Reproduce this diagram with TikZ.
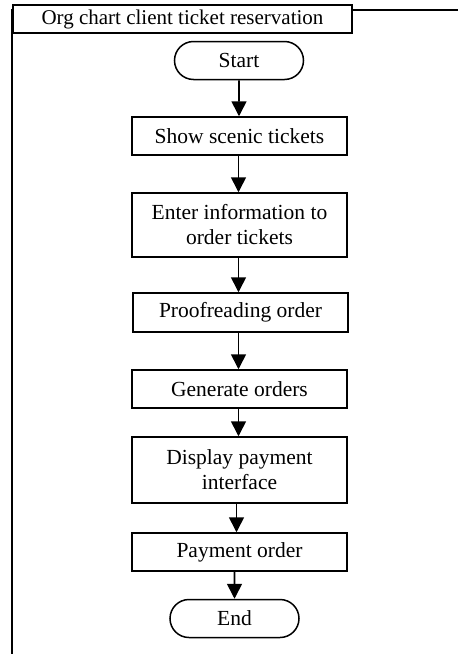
\documentclass[tikz,border=0pt]{standalone}
\usepackage{fontspec}
\setmainfont{Liberation Serif}
\usetikzlibrary{arrows.meta,shapes.misc}
\begin{document}
\begin{tikzpicture}[x=1pt,y=-1pt,
  txt/.style={font=\fontsize{21.5}{25}\selectfont},
  box/.style={draw,line width=1.5pt,minimum width=215pt,align=center,inner sep=0pt,txt},
  term/.style={draw,line width=1.5pt,rounded rectangle,minimum width=129pt,minimum height=38pt,inner sep=0pt,txt},
  flow/.style={-{Triangle[width=15pt,length=15pt]},line width=1.6pt}]
\useasboundingbox (0,0) rectangle (458,654);
% outer frame
\draw[line width=2pt] (458,9.5) -- (11.5,9.5) -- (11.5,654);
\node[draw,line width=1.5pt,fill=white,minimum width=339pt,minimum height=28pt,inner sep=0pt,font=\fontsize{21}{25}\selectfont] (title) at (182.5,19) {Org chart client ticket reservation};
% nodes
\node[term] (start) at (239,60.5) {Start};
\node[box,minimum height=38pt] (show) at (239.5,136) {Show scenic tickets};
\node[box,minimum height=64pt] (enter) at (239.5,225) {Enter information to\\order tickets};
\node[box,minimum height=39pt] (proof) at (240.5,312.5) {Proofreading order};
\node[box,minimum height=38pt] (gen) at (239.5,389) {Generate orders};
\node[box,minimum height=66pt] (disp) at (239.5,470) {Display payment\\interface};
\node[box,minimum height=38pt] (pay) at (239.5,552) {Payment order};
\node[term] (end) at (234.5,618.5) {End};
% connectors
\draw[flow] (start) -- (start |- show.north);
\draw[flow] ([xshift=-1pt]show.south) -- ([xshift=-1pt]enter.north);
\draw[flow] ([xshift=-1pt]enter.south) -- ([xshift=-2pt]proof.north);
\draw[flow] ([xshift=-2pt]proof.south) -- ([xshift=-1pt]gen.north);
\draw[flow] ([xshift=-1pt]gen.south) -- ([xshift=-1pt]disp.north);
\draw[flow] ([xshift=-3pt]disp.south) -- ([xshift=-3pt]pay.north);
\draw[flow] (pay.south -| end) -- (end);
\end{tikzpicture}
\end{document}
